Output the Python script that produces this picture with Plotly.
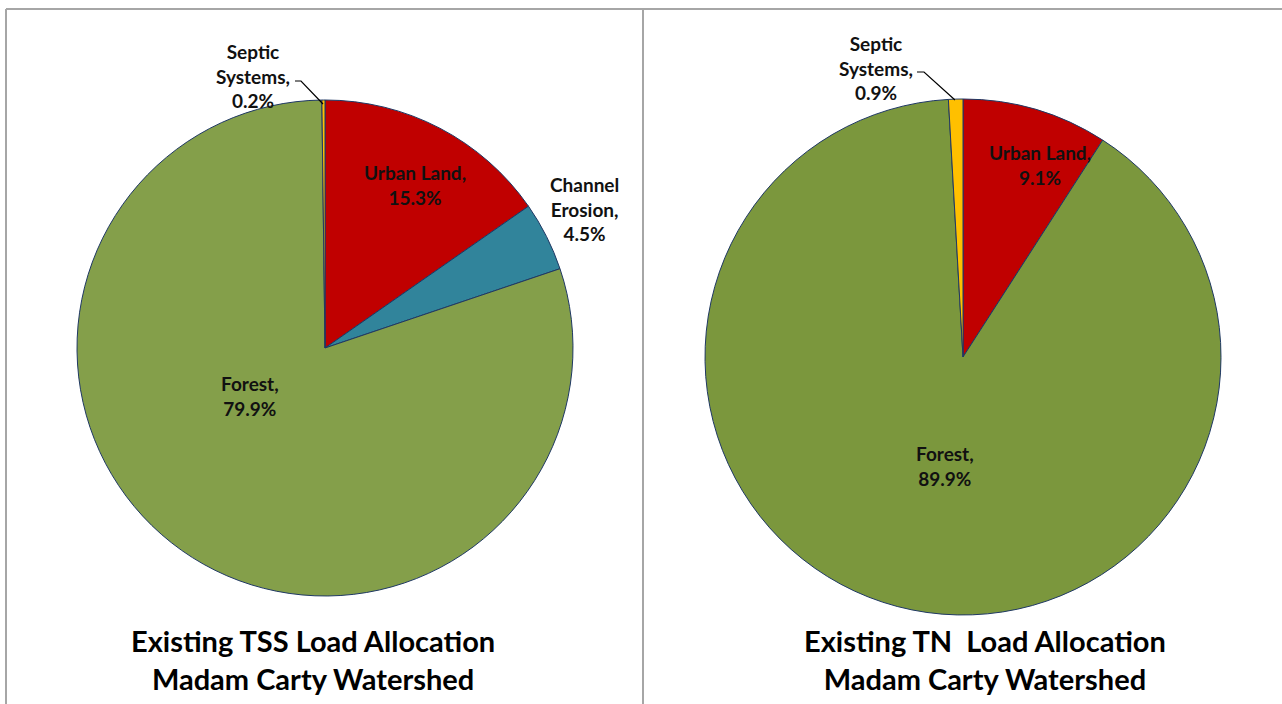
import plotly.graph_objects as go

W, H = 1282, 704

# Data
categories = ["Urban Land", "Channel Erosion", "Forest", "Septic Systems"]
tss_values = [15.3, 4.5, 79.9, 0.2]
tn_categories = ["Urban Land", "Forest", "Septic Systems"]
tn_values = [9.1, 89.9, 0.9]
colors_tss = ["#c00000", "#31849b", "#849f4a", "#ffc000"]
colors_tn = ["#c00000", "#7b973d", "#ffc000"]
titles = ["Existing TSS Load Allocation<br>Madam Carty Watershed",
          "Existing TN  Load Allocation<br>Madam Carty Watershed"]


def px(x):
    return x / W


def py(y):
    return 1 - y / H


FONT = "Lato"
fig = go.Figure()

# Left pie: centre (325, 348), r 248
cx, cy, r = 325, 348, 248
fig.add_trace(go.Pie(
    labels=categories, values=tss_values, sort=False, direction="clockwise",
    rotation=0, textinfo="none", hoverinfo="label+percent",
    marker=dict(colors=colors_tss, line=dict(color="#1f3864", width=1)),
    domain=dict(x=[px(cx - r), px(cx + r)], y=[py(cy + r), py(cy - r)]),
    showlegend=False,
))

# Right pie: centre (963, 357), r 258
cx2, cy2, r2 = 963, 357, 258
fig.add_trace(go.Pie(
    labels=tn_categories, values=tn_values, sort=False, direction="clockwise",
    rotation=0, textinfo="none", hoverinfo="label+percent",
    marker=dict(colors=colors_tn, line=dict(color="#1f3864", width=1)),
    domain=dict(x=[px(cx2 - r2), px(cx2 + r2)], y=[py(cy2 + r2), py(cy2 - r2)]),
    showlegend=False,
))

lab_font = dict(family=FONT, size=19, color="#111111", weight="bold")
labels_left = [
    ("Septic<br>Systems,<br>%.1f%%" % tss_values[3], 253, 76),
    ("Urban Land,<br>%.1f%%" % tss_values[0], 415, 185),
    ("Channel<br>Erosion,<br>%.1f%%" % tss_values[1], 584, 209),
    ("Forest,<br>%.1f%%" % tss_values[2], 250, 396),
]
labels_right = [
    ("Septic<br>Systems,<br>%.1f%%" % tn_values[2], 876, 68),
    ("Urban Land,<br>%.1f%%" % tn_values[0], 1040, 165),
    ("Forest,<br>%.1f%%" % tn_values[1], 945, 466),
]
for txt, x, y in labels_left + labels_right:
    fig.add_annotation(x=px(x), y=py(y), xref="paper", yref="paper", text=txt,
                       showarrow=False, font=lab_font, align="center",
                       xanchor="center", yanchor="middle")

title_font = dict(family=FONT, size=29, color="#000000", weight="bold")
for txt, x in zip(titles, [313, 985]):
    fig.add_annotation(x=px(x), y=py(659), xref="paper", yref="paper", text=txt,
                       showarrow=False, font=title_font, align="center",
                       xanchor="center", yanchor="middle")

shapes = []
# leader lines
for pts in ([(295, 81), (301, 81), (323, 104)], [(917, 72), (924, 72), (955, 100)]):
    path = "M " + " L ".join("%f,%f" % (px(a), py(b)) for a, b in pts)
    shapes.append(dict(type="path", path=path, xref="paper", yref="paper",
                       line=dict(color="#000000", width=1.2)))
# panel borders
border = dict(color="#a6a6a6", width=2)
shapes.append(dict(type="line", xref="paper", yref="paper", x0=px(6), x1=px(6), y0=0, y1=py(9), line=border))
shapes.append(dict(type="line", xref="paper", yref="paper", x0=px(6), x1=1, y0=py(9), y1=py(9), line=border))
shapes.append(dict(type="line", xref="paper", yref="paper", x0=px(643), x1=px(643), y0=0, y1=py(9), line=border))
fig.update_layout(shapes=shapes)

fig.update_layout(
    width=W, height=H, margin=dict(l=0, r=0, t=0, b=0),
    paper_bgcolor="white", plot_bgcolor="white",
)

fig.write_html("out.html", config={"displayModeBar": False},
               post_script="document.body.style.margin='0';document.body.style.overflow='hidden';")
